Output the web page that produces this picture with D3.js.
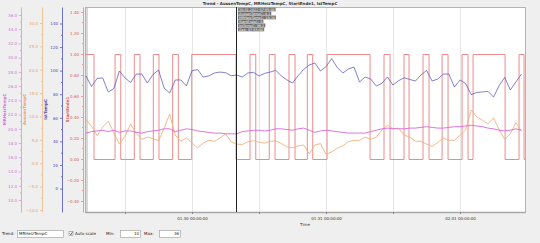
<!DOCTYPE html>
<html>
<head>
<meta charset="utf-8">
<script src="https://cdn.jsdelivr.net/npm/d3@7"></script>
<style>
html, body { margin: 0; padding: 0; background: #efefef; }
svg { display: block; font-family: "DejaVu Sans", sans-serif; }
</style>
</head>
<body>
<svg id="chart" width="540" height="243"></svg>
<script>
// time window of the trend and hourly sample grid
const domainStart = "2022-01-29 04:50";
const domainEnd = "2022-02-01 11:38";
const hourStart = "2022-01-29 05:00";

// hourly values
const aussenTemp = [9.4, 7.9, 5.9, 7.7, 9.0, 6.5, 4.1, 5.8, 8.4, 6.4,
  5.1, 5.6, 5.3, 4.8, 7.5, 10.5, 6.0, 4.7, 5.4, 4.3,
  3.3, 4.3, 4.9, 4.7, 5.4, 6.3, 4.6, 4.1, 4.0, 4.6,
  4.8, 4.5, 4.3, 4.7, 4.8, 4.2, 3.5, 3.3, 3.7, 3.9,
  2.0, 3.9, 4.2, 1.9, 2.4, 3.2, 3.7, 4.6, 4.9, 4.9,
  5.6, 5.1, 5.6, 7.1, 8.1, 7.4, 7.5, 6.0, 5.6, 4.7,
  4.7, 4.1, 3.6, 4.4, 5.4, 4.9, 4.9, 6.0, 7.1, 11.4,
  9.9, 9.2, 8.4, 9.7, 7.2, 5.1, 6.3, 8.7, 6.8];

const heizTemp = [19.4, 19.6, 19.7, 19.8, 19.6, 19.8, 19.5, 19.7, 19.7, 19.5,
  19.4, 19.6, 19.7, 19.8, 20.0, 20.0, 19.6, 19.8, 20.0, 19.9,
  19.7, 19.6, 19.5, 19.4, 19.4, 19.3, 19.3, 19.3, 19.6, 19.7,
  19.8, 19.8, 19.7, 19.8, 20.0, 20.0, 19.9, 19.8, 20.0, 20.1,
  19.8, 19.5, 19.7, 19.8, 19.7, 19.6, 19.5, 19.4, 19.4, 19.4,
  19.4, 19.6, 19.8, 20.0, 20.1, 20.0, 20.0, 20.0, 20.1, 20.1,
  20.2, 20.3, 20.2, 20.1, 20.1, 20.2, 20.3, 20.3, 20.4, 20.5,
  20.4, 20.3, 20.1, 20.0, 19.8, 19.7, 19.8, 20.0, 19.8];

const istTemp = [95.6, 86.5, 93.4, 93.8, 81.9, 84.9, 99.7, 93.8, 89.9, 97.1,
  97.1, 89.5, 96.7, 100.5, 85.3, 81.0, 92.1, 92.1, 87.0, 100.0,
  100.9, 94.6, 95.5, 98.0, 98.8, 98.3, 95.7, 96.3, 94.6, 98.0,
  98.6, 95.5, 97.7, 98.8, 100.3, 95.5, 92.1, 89.5, 95.7, 101.1,
  104.8, 106.5, 99.7, 103.4, 110.2, 102.7, 98.0, 101.4, 103.1, 90.4,
  94.6, 92.9, 87.0, 89.2, 94.6, 87.8, 91.5, 94.0, 92.5, 91.2,
  96.3, 100.2, 91.2, 92.9, 97.1, 97.1, 86.1, 92.1, 89.1, 79.7,
  81.5, 81.9, 82.5, 77.6, 87.3, 94.3, 83.6, 90.4, 97.1];

// StartEnde1 switches (time, new state)
const switchTimes = ["2022-01-29 04:50", "2022-01-29 06:27", "2022-01-29 10:13", "2022-01-29 11:14",
  "2022-01-29 13:40", "2022-01-29 14:41", "2022-01-29 17:04", "2022-01-29 18:05",
  "2022-01-29 20:32", "2022-01-29 21:33", "2022-01-29 23:57", "2022-01-30 07:53",
  "2022-01-30 10:23", "2022-01-30 11:25", "2022-01-30 13:50", "2022-01-30 14:52",
  "2022-01-30 17:22", "2022-01-30 18:27", "2022-01-30 20:39", "2022-01-30 21:37",
  "2022-01-31 00:11", "2022-01-31 07:53", "2022-01-31 10:23", "2022-01-31 11:28",
  "2022-01-31 13:58", "2022-01-31 14:52", "2022-01-31 17:22", "2022-01-31 18:27",
  "2022-01-31 20:47", "2022-01-31 21:51", "2022-02-01 00:22", "2022-02-01 01:26",
  "2022-02-01 02:20", "2022-02-01 08:04", "2022-02-01 10:34", "2022-02-01 11:28",
  "2022-02-01 11:38"];
const switchValues = [1, 0, 1, 0, 1, 0, 1, 0, 1, 0, 1, 0, 1, 0, 1, 0, 1, 0, 1, 0,
  1, 0, 1, 0, 1, 0, 1, 0, 1, 0, 1, 0, 1, 0, 1, 0, 0];

// tick labels of the four value axes
const heizTicks = [10, 12, 14, 16, 18, 20, 22, 24, 26, 28, 30, 32, 34, 36];
const aussenTicks = [-10, -5, 0, 5, 10, 15, 20, 25, 30];
const istTicks = [0, 20, 40, 60, 80, 100, 120, 140];
const stateTicks = [-0.4, -0.2, 0, 0.2, 0.4, 0.6, 0.8, 1.0, 1.2, 1.4];

const cursorTime = "2022-01-30 07:55";
const tooltipLines = ["30.01.2022 07:55:00", "AussenTempC: 4.1", "MRHeizTempC: 19.34",
  "StartEnde1: 0", "IstTempC: 96.3", "Zeit: 07:55:00"];

const svg = d3.select("#chart");
const parse = d3.timeParse("%Y-%m-%d %H:%M");
const plot = {left: 85, right: 525, top: 7, bottom: 212};
const fontSize = 4;

const x = d3.scaleTime()
  .domain([parse(domainStart), parse(domainEnd)])
  .range([plot.left, plot.right]);

const yHeiz = d3.scaleLinear().domain([8.31, 37.12]).range([plot.bottom, plot.top]);
const yAussen = d3.scaleLinear().domain([-10.43, 33.42]).range([plot.bottom, plot.top]);
const yIst = d3.scaleLinear().domain([-19.9, 154.0]).range([plot.bottom, plot.top]);
const yState = d3.scaleLinear().domain([-0.505, 1.448]).range([plot.bottom, plot.top]);

const t0 = parse(hourStart);
const hourly = (vals) => vals.map((v, i) => ({t: d3.timeHour.offset(t0, i), v: v}));

// plot background
svg.append("rect")
  .attr("x", plot.left).attr("y", plot.top)
  .attr("width", plot.right - plot.left).attr("height", plot.bottom - plot.top)
  .attr("fill", "#ffffff");

svg.append("defs").append("clipPath").attr("id", "clip")
  .append("rect")
  .attr("x", plot.left).attr("y", plot.top)
  .attr("width", plot.right - plot.left).attr("height", plot.bottom - plot.top);

// vertical grid, every 12 hours
const gridTicks = x.ticks(d3.timeHour.every(12));
svg.append("g").selectAll("line")
  .data(gridTicks)
  .enter().append("line")
  .attr("x1", d => Math.round(x(d)) + 0.5).attr("x2", d => Math.round(x(d)) + 0.5)
  .attr("y1", plot.top).attr("y2", plot.bottom)
  .attr("stroke", "#e6e6e6").attr("stroke-width", 1);

// value axes on the left
function drawAxis(scale, ticks, lineX, color, labelColor, fmt, title, titleX) {
  const minor = [];
  for (let i = 0; i < ticks.length - 1; i++) minor.push((ticks[i] + ticks[i + 1]) / 2);
  const g = svg.append("g").attr("transform", "translate(" + lineX + ",0)");
  g.call(d3.axisLeft(scale).tickValues(ticks).tickFormat(fmt).tickSize(2).tickSizeOuter(0).tickPadding(2));
  g.select(".domain").attr("stroke", color);
  g.selectAll(".tick line").attr("stroke", color);
  g.selectAll(".tick text")
    .attr("fill", labelColor)
    .attr("font-size", fontSize)
    .attr("font-family", "DejaVu Sans");
  g.selectAll(".minor")
    .data(minor)
    .enter().append("line")
    .attr("class", "minor")
    .attr("x1", -1).attr("x2", 0)
    .attr("y1", d => scale(d)).attr("y2", d => scale(d))
    .attr("stroke", color);
  svg.append("text")
    .attr("transform", "translate(" + titleX + "," + ((plot.top + plot.bottom) / 2) + ") rotate(-90)")
    .attr("text-anchor", "middle")
    .attr("font-size", fontSize)
    .attr("font-weight", "bold")
    .attr("fill", labelColor)
    .text(title);
}

drawAxis(yHeiz, heizTicks, 21, "#e6a0ea", "#d070d8", d3.format(".1f"), "MRHeizTempC", 6);
drawAxis(yAussen, aussenTicks, 42, "#f2c49a", "#e8a060", d3.format(".1f"), "AussenTempC", 26);
drawAxis(yIst, istTicks, 62, "#7070c8", "#4848b0", d3.format("d"), "IstTempC", 47);
drawAxis(yState, stateTicks, 83, "#ec9a9a", "#d85858", d3.format(".2f"), "StartEnde1", 69);

// plot frame
svg.append("line")
  .attr("x1", plot.left + 2).attr("x2", plot.left + 2)
  .attr("y1", plot.top).attr("y2", plot.bottom)
  .attr("stroke", "#d8d8d8").attr("stroke-width", 2);
svg.append("rect")
  .attr("x", plot.left + 0.5).attr("y", plot.top + 0.5)
  .attr("width", plot.right - plot.left).attr("height", plot.bottom - plot.top)
  .attr("fill", "none").attr("stroke", "#b4b4b4").attr("stroke-width", 1);

// series
const lines = svg.append("g").attr("clip-path", "url(#clip)");

const stateData = switchTimes.map((s, i) => ({t: parse(s), v: switchValues[i]}));
lines.append("path")
  .datum(stateData)
  .attr("fill", "none")
  .attr("stroke", "#ea8c8c")
  .attr("stroke-width", 1)
  .attr("d", d3.line().curve(d3.curveStepAfter).x(d => x(d.t)).y(d => Math.round(yState(d.v)) + 0.5));

lines.append("path")
  .datum(hourly(aussenTemp))
  .attr("fill", "none")
  .attr("stroke", "#f2b27e")
  .attr("stroke-width", 0.9)
  .attr("d", d3.line().x(d => x(d.t)).y(d => yAussen(d.v)));

lines.append("path")
  .datum(hourly(heizTemp))
  .attr("fill", "none")
  .attr("stroke", "#d866dc")
  .attr("stroke-width", 0.9)
  .attr("d", d3.line().x(d => x(d.t)).y(d => yHeiz(d.v)));

lines.append("path")
  .datum(hourly(istTemp))
  .attr("fill", "none")
  .attr("stroke", "#5858bc")
  .attr("stroke-width", 0.75)
  .attr("d", d3.line().x(d => x(d.t)).y(d => yIst(d.v)));

// x axis
const xAxis = svg.append("g").attr("transform", "translate(0," + plot.bottom + ")");
xAxis.call(d3.axisBottom(x)
  .tickValues(gridTicks)
  .tickSize(2).tickSizeOuter(0).tickPadding(3)
  .tickFormat(d => d.getHours() === 0 ? d3.timeFormat("%m.%d %H:%M:%S")(d) : ""));
xAxis.select(".domain").attr("stroke", "#a8a8a8").attr("stroke-width", 1.5);
xAxis.selectAll(".tick line").attr("stroke", "#888");
xAxis.selectAll(".tick text").attr("font-size", fontSize).attr("fill", "#333").attr("font-family", "DejaVu Sans");

svg.append("text")
  .attr("x", (plot.left + plot.right) / 2).attr("y", 226)
  .attr("text-anchor", "middle")
  .attr("font-size", fontSize).attr("fill", "#333")
  .text("Time");

// title
svg.append("text")
  .attr("x", 270).attr("y", 5)
  .attr("text-anchor", "middle")
  .attr("font-size", fontSize).attr("font-weight", "bold").attr("fill", "#333")
  .text("Trend - AussenTempC, MRHeizTempC, StartEnde1, IstTempC");

// cursor and its tooltip
const cx = Math.round(x(parse(cursorTime))) + 0.5;
svg.append("line")
  .attr("x1", cx).attr("x2", cx)
  .attr("y1", plot.top).attr("y2", plot.bottom)
  .attr("stroke", "#222").attr("stroke-width", 1);

const tip = svg.append("g").attr("transform", "translate(" + (cx + 1.5) + "," + (plot.top + 0.5) + ")");
tooltipLines.forEach((s, i) => {
  const row = tip.append("g").attr("transform", "translate(0," + (i * 4) + ")");
  const t = row.append("text")
    .attr("x", 1).attr("y", 3.1)
    .attr("font-size", 3.4).attr("fill", "#ffffff")
    .text(s);
  const w = t.node().getComputedTextLength();
  row.insert("rect", "text")
    .attr("x", 0).attr("y", 0)
    .attr("width", w + 2).attr("height", 3.8)
    .attr("fill", "#6e6e6e").attr("stroke", "#cfcfcf").attr("stroke-width", 0.3);
});

// controls row
const ctl = svg.append("g").attr("font-size", fontSize).attr("fill", "#222");
ctl.append("text").attr("x", 2).attr("y", 235).text("Trend:");
ctl.append("rect").attr("x", 17.5).attr("y", 230.5).attr("width", 46).attr("height", 7)
  .attr("fill", "#fff").attr("stroke", "#9a9a9a").attr("stroke-width", 0.6);
ctl.append("text").attr("x", 19).attr("y", 235.3).text("MRHeizTempC");
ctl.append("rect").attr("x", 69).attr("y", 231.5).attr("width", 4).attr("height", 4)
  .attr("fill", "#fff").attr("stroke", "#777").attr("stroke-width", 0.5);
ctl.append("path").attr("d", "M69.8,233.5 L70.9,234.7 L72.4,232.2")
  .attr("fill", "none").attr("stroke", "#222").attr("stroke-width", 0.7);
ctl.append("text").attr("x", 75).attr("y", 235.3).text("Auto scale");
ctl.append("text").attr("x", 106).attr("y", 235.3).text("Min:");
ctl.append("rect").attr("x", 120.5).attr("y", 230.5).attr("width", 20).attr("height", 7)
  .attr("fill", "#fff").attr("stroke", "#9a9a9a").attr("stroke-width", 0.6);
ctl.append("text").attr("x", 139).attr("y", 235.3).attr("text-anchor", "end").text("10");
ctl.append("text").attr("x", 144).attr("y", 235.3).text("Max:");
ctl.append("rect").attr("x", 159.5).attr("y", 230.5).attr("width", 21).attr("height", 7)
  .attr("fill", "#fff").attr("stroke", "#9a9a9a").attr("stroke-width", 0.6);
ctl.append("text").attr("x", 179).attr("y", 235.3).attr("text-anchor", "end").text("36");
</script>
</body>
</html>
